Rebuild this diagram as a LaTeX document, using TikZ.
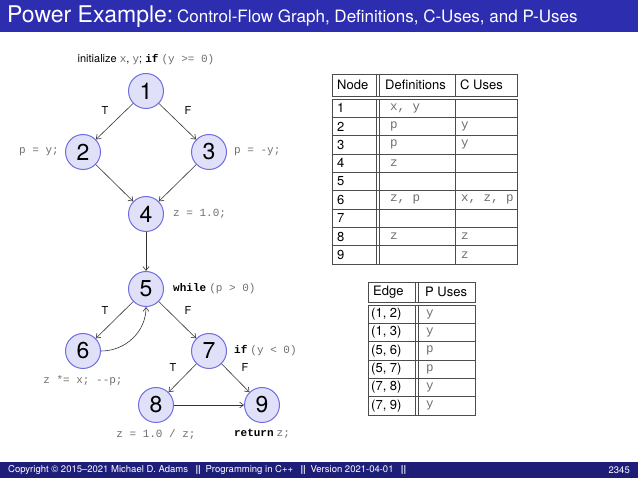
\documentclass[tikz,border=0pt]{standalone}
\usepackage{fontspec}
\setmainfont{TeX Gyre Heros}
\setsansfont{TeX Gyre Heros}
\setmonofont{Liberation Mono}
\usetikzlibrary{arrows.meta}
\definecolor{titleblue}{RGB}{45,45,175}
\definecolor{footblue}{RGB}{30,30,120}
\definecolor{nodefill}{RGB}{224,224,248}
\definecolor{nodeline}{RGB}{110,110,225}
\definecolor{codegray}{RGB}{110,110,110}
\tikzset{
 vtx/.style={circle,draw=nodeline,line width=1pt,fill=nodefill,minimum size=35pt,inner sep=0pt,font=\fontsize{23}{24}\selectfont},
 edge/.style={-{Straight Barb[length=4pt,width=6pt]},draw=black!80,line width=0.6pt},
 lab/.style={font=\fontsize{11}{12}\selectfont,inner sep=1pt},
 code/.style={font=\fontsize{11}{12}\selectfont\ttfamily,text=codegray,inner sep=1pt},
 cell/.style={font=\fontsize{13}{14}\selectfont,inner sep=0pt,anchor=west},
 ccell/.style={font=\fontsize{12.5}{14}\selectfont\ttfamily,text=codegray,inner sep=0pt,anchor=west},
 tl/.style={draw=black!70,line width=0.6pt}
}
\newcommand{\cd}[1]{{\ttfamily\color{codegray}#1}}
\newcommand{\bk}[1]{{\ttfamily\bfseries\color{black}#1}}
\begin{document}
\begin{tikzpicture}[x=1pt,y=-1pt]
\useasboundingbox (0,0) rectangle (638,478);
\fill[titleblue] (0,0) rectangle (638,32);
\node[anchor=west,text=white,inner sep=0pt] (title) at (7,17) {{\fontsize{23}{24}\selectfont Power Example:} {\fontsize{17}{18}\selectfont Control-Flow Graph, Definitions, C-Uses, and P-Uses}};
\fill[footblue] (0,462) rectangle (638,478);
\node[anchor=west,text=white,inner sep=0pt,font=\fontsize{9.5}{10}\selectfont] (foot) at (8,470) {Copyright \textcopyright{} 2015--2021 Michael D. Adams \enspace\textbf{||}\enspace Programming in C++ \enspace\textbf{||}\enspace Version 2021-04-01 \enspace\textbf{||}};
\node[anchor=east,text=white,inner sep=0pt,font=\fontsize{9.5}{10}\selectfont] (pg) at (630,470) {2345};

% graph
\node[vtx] (n1) at (146,91) {1};
\node[vtx] (n2) at (83,152) {2};
\node[vtx] (n3) at (209,152) {3};
\node[vtx] (n4) at (146,214) {4};
\node[vtx] (n5) at (146,289) {5};
\node[vtx] (n6) at (83,351) {6};
\node[vtx] (n7) at (209,351) {7};
\node[vtx] (n8) at (156,405) {8};
\node[vtx] (n9) at (262,405) {9};
\draw[edge] (n1) -- (n2);
\draw[edge] (n1) -- (n3);
\draw[edge] (n2) -- (n4);
\draw[edge] (n3) -- (n4);
\draw[edge] (n4) -- (n5);
\draw[edge] (n5) -- (n6);
\draw[edge] (n5) -- (n7);
\draw[edge] (n6.east) to[out=0,in=-90] (n5.south);
\draw[edge] (n7) -- (n8);
\draw[edge] (n7) -- (n9);
\draw[edge] (n8) -- (n9);

\node[lab] (l1) at (146,60) {initialize \cd{x}, \cd{y}; \bk{if} \cd{(y >= 0)}};
\node[lab] (t1) at (105,110) {T};
\node[lab] (f1) at (188,110) {F};
\node[code,anchor=east] (l2) at (60,152) {p = y;};
\node[code,anchor=west] (l3) at (233,152) {p = -y;};
\node[code,anchor=west] (l4) at (172,214) {z = 1.0;};
\node[lab,anchor=west] (l5) at (172,289) {\bk{while} \cd{(p > 0)}};
\node[lab] (t5) at (105,310) {T};
\node[lab] (f5) at (188,310) {F};
\node[lab,anchor=west] (l7) at (233,351) {\bk{if} \cd{(y < 0)}};
\node[lab] (t7) at (173,367) {T};
\node[lab] (f7) at (245,367) {F};
\node[code] (l6) at (83,381) {z *= x; --p;};
\node[code] (l8) at (156,434) {z = 1.0 / z;};
\node[lab] (l9) at (262,434) {\bk{return} \cd{z;}};

% table 1
\draw[tl] (332,74) rectangle (517,96);
\draw[tl] (376,74) -- (376,96) (379,74) -- (379,96) (455,74) -- (455,96);
\node[cell] (h1) at (337,85) {Node};
\node[cell] (h2) at (385,85) {Definitions};
\node[cell] (h3) at (460,85) {C Uses};
\draw[tl] (332,99) rectangle (517,264);
\draw[tl] (376,99) -- (376,264) (379,99) -- (379,264) (455,99) -- (455,264);
\foreach \i in {1,...,8} { \draw[tl] (332,99+\i*18.33) -- (517,99+\i*18.33); }
\foreach \n/\d/\c [count=\i from 0] in {1/{x, y}/,2/p/y,3/p/y,4/z/,5//,6/{z, p}/{x, z, p},7//,8/z/z,9//z} {
  \node[cell] at (337,108.2+\i*18.33) {\n};
  \node[ccell] at (390,108.2+\i*18.33) {\d};
  \node[ccell] at (461,108.2+\i*18.33) {\c};
}
% table 2
\draw[tl] (368,282) rectangle (475,302);
\draw[tl] (415,282) -- (415,302) (418,282) -- (418,302);
\node[cell] (e1) at (373,292) {Edge};
\node[cell] (e2) at (425,292) {P Uses};
\draw[tl] (368,305) rectangle (475,415);
\draw[tl] (415,305) -- (415,415) (418,305) -- (418,415);
\foreach \i in {1,...,5} { \draw[tl] (368,305+\i*18.33) -- (475,305+\i*18.33); }
\foreach \e/\p [count=\i from 0] in {{(1, 2)}/y,{(1, 3)}/y,{(5, 6)}/p,{(5, 7)}/p,{(7, 8)}/y,{(7, 9)}/y} {
  \node[cell] at (371,314.2+\i*18.33) {\e};
  \node[ccell] at (426,314.2+\i*18.33) {\p};
}
\end{tikzpicture}
\end{document}
